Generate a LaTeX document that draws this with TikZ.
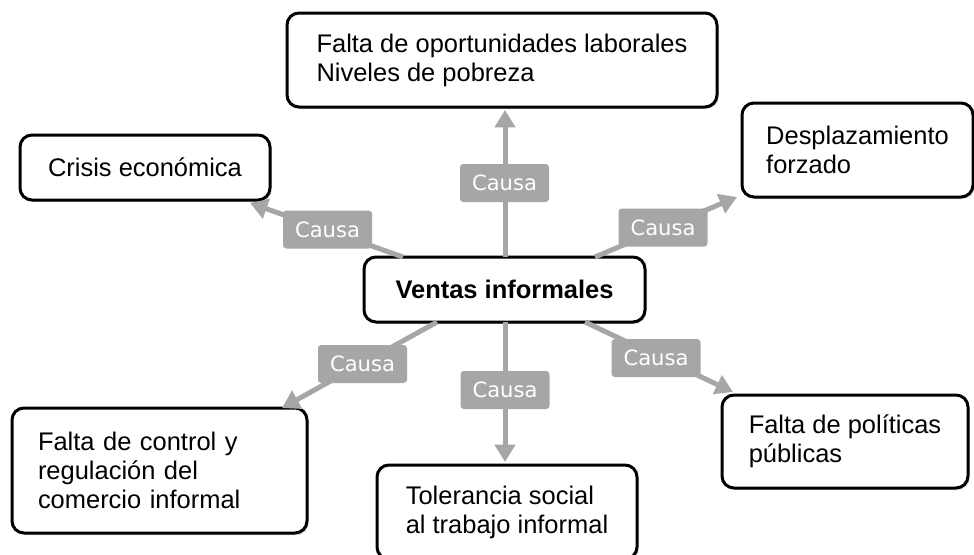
\documentclass[tikz,border=0pt]{standalone}
\usepackage{fontspec}
\setmainfont{Liberation Sans}
\newfontfamily\labfont{DejaVu Sans}
\usetikzlibrary{arrows.meta,shadows}
\definecolor{arrgray}{HTML}{A6A6A6}
\begin{document}
\begin{tikzpicture}[x=0.75pt,y=-0.75pt,
  box/.style={draw=black, line width=2.25pt, rounded corners=9pt, fill=white, align=left,
    font=\fontsize{19.1}{21.75}\selectfont, inner sep=0pt,
    drop shadow={shadow xshift=1.2pt, shadow yshift=-1.5pt, opacity=0.3}},
  lab/.style={fill=arrgray, rounded corners=2.5pt, text=white,
    font=\labfont\fontsize{15.8}{18}\selectfont, minimum width=66.75pt,
    minimum height=28.5pt, inner sep=0pt},
  arr/.style={draw=arrgray, line width=3.75pt, -{Triangle[width=15pt,length=13pt]}}]
\clip (0,0) rectangle (974,554);
\fill[white] (0,0) rectangle (974,554);

% boxes
\node[box, minimum width=322.5pt, minimum height=70.5pt] (T) at (502,60)
  {Falta de oportunidades laborales\\Niveles de pobreza};
\node[box, minimum width=187.5pt, minimum height=48.75pt] (C) at (145,167.5)
  {Crisis económica};
\node[box, minimum width=173.25pt, minimum height=70.5pt] (D) at (857.5,150)
  {Desplazamiento\\forzado};
\node[box, minimum width=210.75pt, minimum height=48.75pt,
  font=\bfseries\fontsize{19.1}{21.75}\selectfont] (V) at (504.5,289.5)
  {Ventas informales};
\node[box, minimum width=221.25pt, minimum height=93.75pt, text width=182.25pt] (F) at (159.5,470.5)
  {Falta de control y\\regulación del\\comercio informal};
\node[box, minimum width=195pt, minimum height=70.5pt] (Tol) at (507,512)
  {Tolerancia social\\al trabajo informal};
\node[box, minimum width=184.5pt, minimum height=69.75pt] (P) at (845,441.5)
  {Falta de políticas\\públicas};

% connector ends
\coordinate (s1) at (505,257);  \coordinate (t1) at (505,110);
\coordinate (s2) at (403,257);  \coordinate (t2) at (250,203);
\coordinate (s3) at (595,257);  \coordinate (t3) at (737,197);
\coordinate (s4) at (437,322);  \coordinate (t4) at (282,408);
\coordinate (s5) at (505,322);  \coordinate (t5) at (505,462);
\coordinate (s6) at (585,322);  \coordinate (t6) at (733,392);

% connectors
\draw[arr] (s1) -- (t1);
\draw[arr] (s2) -- (t2);
\draw[arr] (s3) -- (t3);
\draw[arr] (s4) -- (t4);
\draw[arr] (s5) -- (t5);
\draw[arr] (s6) -- (t6);

% labels on the connectors
\node[lab] (L1) at (504.5,183) {Causa};
\node[lab] (L2) at (327.5,229.5) {Causa};
\node[lab] (L3) at (663,227.5) {Causa};
\node[lab] (L4) at (362.5,364) {Causa};
\node[lab] (L5) at (505,390) {Causa};
\node[lab] (L6) at (656,358) {Causa};
\end{tikzpicture}
\end{document}
